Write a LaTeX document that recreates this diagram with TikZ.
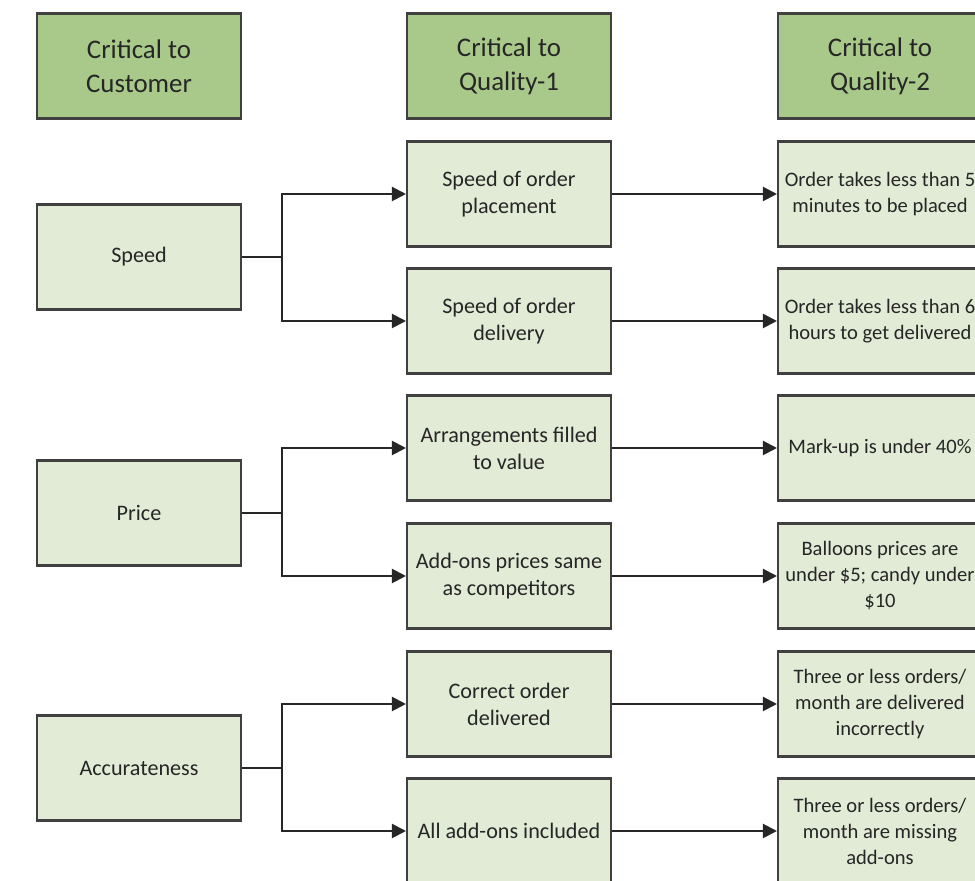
\documentclass[tikz,border=0pt]{standalone}
\usepackage{fontspec}
\setmainfont{Carlito}
\usetikzlibrary{arrows.meta}
\definecolor{hdrfill}{HTML}{A9C98A}
\definecolor{boxfill}{HTML}{E2EBD5}
\definecolor{edge}{HTML}{404040}
\definecolor{txt}{HTML}{262626}
\tikzset{
  hdr/.style={draw=edge, line width=1.2pt, fill=hdrfill, minimum width=4.08cm, minimum height=2.1cm,
    align=center, text=txt, font=\fontsize{15.3}{19.3}\selectfont, inner sep=0pt},
  cbox/.style={draw=edge, line width=1.2pt, fill=boxfill, minimum width=4.08cm, minimum height=2.1cm,
    align=center, text=txt, font=\fontsize{12.6}{15.3}\selectfont, inner sep=0pt},
  rbox/.style={cbox, font=\fontsize{11.7}{14.8}\selectfont},
  conn/.style={draw=black!85, line width=1.2pt},
  arr/.style={conn, -{Triangle[length=8pt, width=8pt]}}
}
\begin{document}
\begin{tikzpicture}[x=0.02cm, y=-0.02cm]
\clip (0,0) rectangle (975,881);
\fill[white] (0,0) rectangle (975,881);
% headers
\node[hdr] (h1) at (139,66) {Critical to\\Customer};
\node[hdr] (h2) at (509,66) {Critical to\\Quality-1};
\node[hdr] (h3) at (880,66) {Critical to\\Quality-2};
% column 1
\node[cbox] (c1) at (139,257) {Speed};
\node[cbox] (c2) at (139,513) {Price};
\node[cbox] (c3) at (139,768) {Accurateness};
% column 2
\node[cbox] (q1) at (509,194) {Speed of order\\placement};
\node[cbox] (q2) at (509,321) {Speed of order\\delivery};
\node[cbox] (q3) at (509,448) {Arrangements filled\\to value};
\node[cbox] (q4) at (509,576) {Add-ons prices same\\as competitors};
\node[cbox] (q5) at (509,704) {Correct order\\delivered};
\node[cbox] (q6) at (509,831) {All add-ons included};
% column 3
\node[rbox] (r1) at (880,194) {Order takes less than 5\\minutes to be placed};
\node[rbox] (r2) at (880,321) {Order takes less than 6\\hours to get delivered};
\node[rbox] (r3) at (880,448) {Mark-up is under 40\%};
\node[rbox] (r4) at (880,576) {Balloons prices are\\under \$5; candy under\\\$10};
\node[rbox] (r5) at (880,704) {Three or less orders/\\month are delivered\\incorrectly};
\node[rbox] (r6) at (880,831) {Three or less orders/\\month are missing\\add-ons};
% branches
\foreach \s/\a/\b in {c1/q1/q2, c2/q3/q4, c3/q5/q6}{
  \draw[arr] (\s.east) -- ++(40,0) |- (\a.west);
  \draw[arr] (\s.east) -- ++(40,0) |- (\b.west);
}
\foreach \a/\b in {q1/r1, q2/r2, q3/r3, q4/r4, q5/r5, q6/r6}{
  \draw[arr] (\a.east) -- (\b.west);
}
\end{tikzpicture}
\end{document}
